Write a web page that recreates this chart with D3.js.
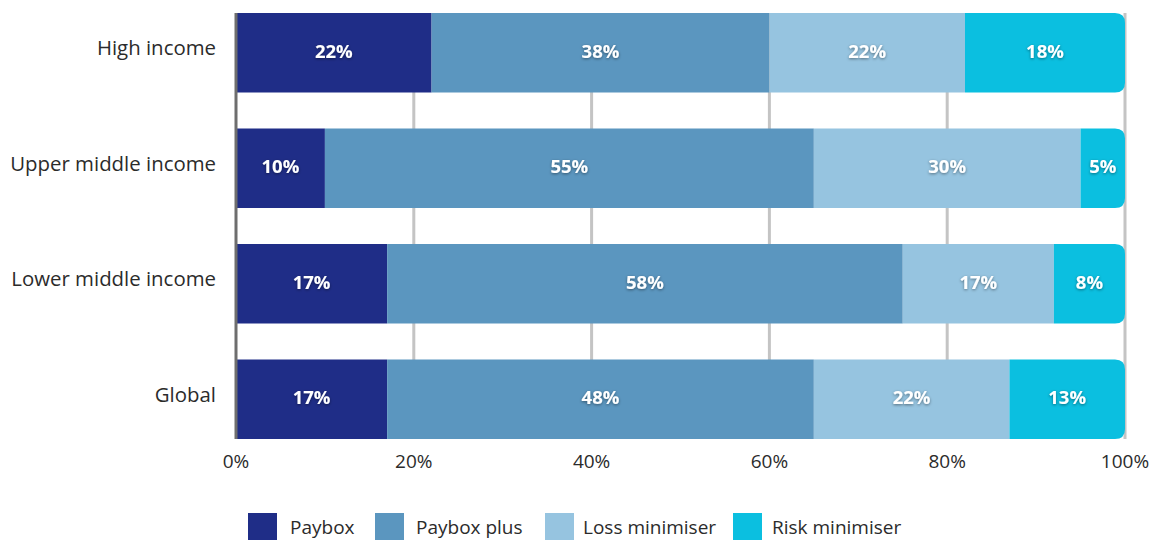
<!DOCTYPE html>
<html><head><meta charset="utf-8">
<script src="https://cdn.jsdelivr.net/npm/d3@7"></script>
<style>
html,body{margin:0;padding:0;background:#fff;}
svg{display:block;font-family:"Open Sans",sans-serif;}
</style></head>
<body><svg id="c" width="1151" height="540"></svg>
<script>
const categories = ["High income","Upper middle income","Lower middle income","Global"];
const seriesNames = ["Paybox","Paybox plus","Loss minimiser","Risk minimiser"];
const paybox = [22,10,17,17];
const payboxPlus = [38,55,58,48];
const lossMin = [22,30,17,22];
const riskMin = [18,5,8,13];
const xTicks = [0,20,40,60,80,100];
const colors = ["#1f2d87","#5b96bf","#96c4e0","#0bbfe0"];

const seriesVals = [paybox,payboxPlus,lossMin,riskMin];
const rows = categories.map((c,i)=>{const o={cat:c}; seriesNames.forEach((s,j)=>o[s]=seriesVals[j][i]); return o;});
const stack = d3.stack().keys(seriesNames)(rows);

const svg = d3.select("#c");
const x = d3.scaleLinear().domain([0,100]).range([236,1125]);
const y = d3.scaleBand().domain(categories).range([13,439]).paddingInner(0.3125).paddingOuter(0);

const defs = svg.append("defs");
const f = defs.append("filter").attr("id","sh").attr("x","-20%").attr("y","-20%").attr("width","140%").attr("height","140%");
f.append("feDropShadow").attr("dx",0).attr("dy",1).attr("stdDeviation",1.5).attr("flood-color","#000").attr("flood-opacity",0.45);

// grid
svg.append("g").selectAll("line").data(xTicks.slice(1)).join("line")
  .attr("x1",d=>x(d)).attr("x2",d=>x(d)).attr("y1",13).attr("y2",439)
  .attr("stroke","#c4c4c4").attr("stroke-width",3);

const r = 10;
function segPath(x0,x1,y0,h,round){
  if(!round) return `M${x0},${y0}H${x1}V${y0+h}H${x0}Z`;
  return `M${x0},${y0}H${x1-r}Q${x1},${y0} ${x1},${y0+r}V${y0+h-r}Q${x1},${y0+h} ${x1-r},${y0+h}H${x0}Z`;
}

stack.forEach((layer,li)=>{
  const g = svg.append("g");
  g.selectAll("path").data(layer).join("path")
    .attr("d",d=>segPath(x(d[0]),x(d[1]),y(d.data.cat),y.bandwidth(),li===stack.length-1))
    .attr("fill",colors[li]);
  g.selectAll("text").data(layer).join("text")
    .attr("x",d=>(x(d[0])+x(d[1]))/2)
    .attr("y",d=>y(d.data.cat)+y.bandwidth()/2)
    .attr("text-anchor","middle").attr("dominant-baseline","middle")
    .attr("fill","#fff").attr("font-weight","700").attr("font-size",18.5)
    .attr("filter","url(#sh)")
    .text(d=>(d[1]-d[0])+"%");
});

// y axis line
svg.append("line").attr("x1",236).attr("x2",236).attr("y1",13).attr("y2",439)
  .attr("stroke","#6e6e6e").attr("stroke-width",3);

// category labels
svg.append("g").selectAll("text").data(categories).join("text")
  .attr("x",216).attr("y",d=>y(d)+y.bandwidth()/2-3)
  .attr("text-anchor","end").attr("dominant-baseline","middle")
  .attr("font-size",20.4).attr("fill","#2b2b2b").text(d=>d);

// x axis labels
svg.append("g").selectAll("text").data(xTicks).join("text")
  .attr("x",d=>x(d)).attr("y",463).attr("text-anchor","middle").attr("dominant-baseline","middle")
  .attr("font-size",19).attr("fill","#2b2b2b").text(d=>d+"%");

// legend
const legX = [248,375,545,733];
const legTX = [290,416,583,772];
const lg = svg.append("g");
seriesNames.forEach((s,i)=>{
  lg.append("rect").attr("x",legX[i]).attr("y",513).attr("width",29).attr("height",29).attr("fill",colors[i]);
  lg.append("text").attr("x",legTX[i]).attr("y",529).attr("dominant-baseline","middle")
    .attr("font-size",19).attr("fill","#2b2b2b").text(s);
});
</script></body></html>
